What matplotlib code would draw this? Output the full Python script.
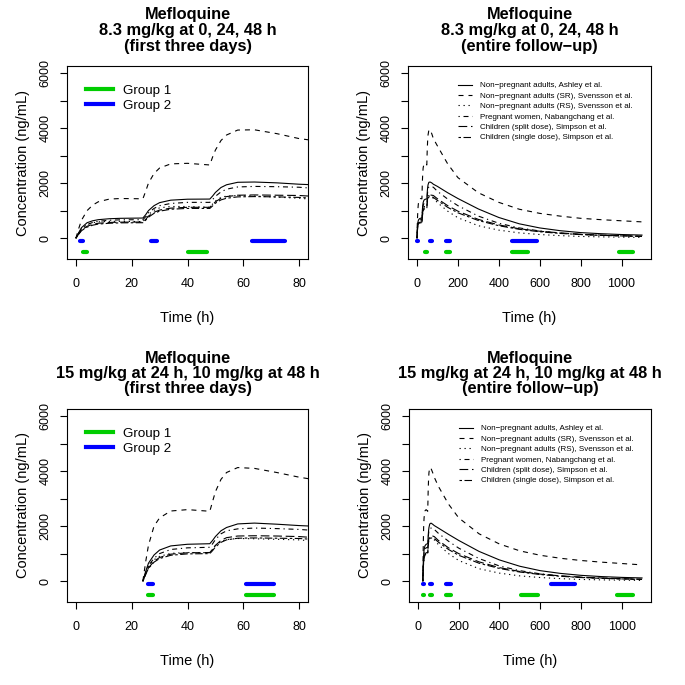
import matplotlib
matplotlib.use('Agg')
import matplotlib.pyplot as plt

plt.rcParams['font.family'] = ['Liberation Sans', 'DejaVu Sans']
plt.rcParams['lines.scale_dashes'] = False

# time grids (h)
t_a = [0, 1, 2, 4, 6, 8, 12, 16, 24, 25, 26, 28, 30, 34, 40, 48, 49, 50, 52, 54, 58, 64, 72, 80,
       100, 150, 200, 300, 400, 500, 600, 700, 800, 900, 1000, 1100]
t_b = [24, 25, 26, 28, 30, 34, 40, 48, 49, 50, 52, 54, 58, 64, 72, 80,
       100, 150, 200, 300, 400, 500, 600, 700, 800, 900, 1000, 1100]

# 8.3 mg/kg at 0, 24, 48 h  (ng/mL)
ashley_a = [0, 200, 380, 560, 630, 670, 705, 720, 730, 850, 1000, 1180, 1290, 1380, 1415, 1420,
            1530, 1660, 1840, 1940, 2030, 2040, 2010, 1960,
            1880, 1650, 1440, 1060, 750, 520, 370, 270, 200, 160, 130, 110]
sr_a = [0, 350, 650, 1000, 1200, 1320, 1420, 1440, 1430, 1700, 2000, 2350, 2550, 2700, 2720, 2660,
        2950, 3200, 3550, 3750, 3930, 3940, 3800, 3620,
        3350, 2700, 2200, 1650, 1300, 1050, 900, 800, 720, 670, 630, 590]
rs_a = [0, 180, 340, 500, 560, 590, 610, 610, 600, 720, 860, 1010, 1100, 1150, 1150, 1120,
        1240, 1350, 1480, 1530, 1550, 1530, 1490, 1450,
        1290, 980, 740, 450, 290, 190, 130, 90, 60, 45, 35, 25]
preg_a = [0, 170, 330, 490, 570, 610, 650, 665, 670, 780, 920, 1080, 1180, 1260, 1300, 1300,
          1400, 1520, 1680, 1780, 1860, 1880, 1870, 1850,
          1700, 1420, 1180, 800, 540, 370, 260, 180, 130, 100, 80, 60]
split_a = [0, 150, 290, 430, 500, 540, 570, 580, 585, 680, 800, 940, 1020, 1090, 1120, 1120,
           1220, 1320, 1450, 1510, 1560, 1570, 1560, 1550,
           1430, 1180, 980, 680, 480, 340, 250, 190, 140, 110, 90, 70]
single_a = [0, 140, 270, 400, 470, 510, 540, 555, 560, 650, 760, 900, 980, 1050, 1080, 1080,
            1170, 1270, 1390, 1450, 1500, 1510, 1500, 1480,
            1370, 1120, 920, 640, 450, 320, 230, 170, 130, 100, 80, 60]

# 15 mg/kg at 24 h, 10 mg/kg at 48 h  (ng/mL)
ashley_b = [0, 350, 650, 950, 1130, 1280, 1340, 1360, 1480, 1620, 1830, 1950, 2080, 2110, 2070, 2020,
            1930, 1700, 1480, 1080, 770, 540, 380, 280, 210, 165, 135, 115]
sr_b = [0, 700, 1300, 2000, 2300, 2550, 2600, 2540, 2900, 3250, 3700, 3950, 4130, 4100, 3950, 3780,
        3450, 2800, 2300, 1720, 1350, 1100, 940, 830, 750, 690, 640, 590]
rs_b = [0, 280, 540, 780, 900, 1010, 1040, 1030, 1160, 1290, 1440, 1510, 1550, 1540, 1520, 1500,
        1330, 1000, 750, 450, 290, 190, 130, 90, 60, 45, 35, 25]
preg_b = [0, 300, 560, 830, 1000, 1150, 1210, 1230, 1360, 1510, 1720, 1830, 1900, 1930, 1910, 1880,
          1740, 1450, 1200, 820, 550, 380, 265, 185, 135, 105, 80, 60]
split_b = [0, 250, 480, 720, 860, 980, 1030, 1040, 1160, 1300, 1480, 1580, 1640, 1650, 1640, 1620,
           1480, 1210, 1000, 700, 490, 350, 255, 190, 145, 115, 90, 70]
single_b = [0, 240, 460, 690, 820, 940, 990, 1000, 1110, 1240, 1410, 1500, 1560, 1570, 1560, 1550,
            1420, 1150, 940, 650, 460, 330, 240, 175, 130, 100, 80, 60]

# sampling windows (start, end) in h
grp1_a = [(2.5, 4), (40, 47), (140, 160), (465, 545), (990, 1055)]
grp2_a = [(1.5, 2.5), (27, 29), (63, 75), (140, 160), (465, 585)]
grp1_b = [(26, 27.5), (61, 71), (140, 160), (505, 590), (975, 1055)]
grp2_b = [(26, 27.5), (61, 71), (140, 160), (655, 770)]
grp_y = [-500, -100]

labels = ['Non\u2212pregnant adults, Ashley et al.',
          'Non\u2212pregnant adults (SR), Svensson et al.',
          'Non\u2212pregnant adults (RS), Svensson et al.',
          'Pregnant women, Nabangchang et al.',
          'Children (split dose), Simpson et al.',
          'Children (single dose), Simpson et al.']
dashes = [None, (3.6, 3.6), (0.9, 2.7), (0.9, 2.7, 3.6, 2.7), (6.3, 2.7), (1.8, 1.8, 5.4, 1.8)]
green = '#00CD00'
blue = '#0000FF'

titles = [['Mefloquine', '8.3 mg/kg at 0, 24, 48 h', '(first three days)'],
          ['Mefloquine', '8.3 mg/kg at 0, 24, 48 h', '(entire follow\u2212up)'],
          ['Mefloquine', '15 mg/kg at 24 h, 10 mg/kg at 48 h', '(first three days)'],
          ['Mefloquine', '15 mg/kg at 24 h, 10 mg/kg at 48 h', '(entire follow\u2212up)']]

W = H = 685.0
fig = plt.figure(figsize=(6.85, 6.85), dpi=100)

# axes boxes in pixels: left, top, right, bottom
boxes = [(67, 66, 308, 259), (408, 66, 651, 259), (67, 409, 308, 602), (409, 409, 651, 602)]
panels = [(t_a, [ashley_a, sr_a, rs_a, preg_a, split_a, single_a], grp1_a, grp2_a, 80),
          (t_a, [ashley_a, sr_a, rs_a, preg_a, split_a, single_a], grp1_a, grp2_a, 1100),
          (t_b, [ashley_b, sr_b, rs_b, preg_b, split_b, single_b], grp1_b, grp2_b, 80),
          (t_b, [ashley_b, sr_b, rs_b, preg_b, split_b, single_b], grp1_b, grp2_b, 1100)]

for box, (tt, curves, g1, g2, xmax), ttl in zip(boxes, panels, titles):
    l, t, r, b = box
    ax = fig.add_axes([l / W, 1 - b / H, (r - l) / W, (b - t) / H])
    lines = []
    for c, d, lab in zip(curves, dashes, labels):
        ln, = ax.plot(tt, c, color='black', lw=0.8, label=lab)
        if d is not None:
            ln.set_dashes(d)
        lines.append(ln)
    for s, e in g1:
        ax.plot([s, e], [grp_y[0]] * 2, color=green, lw=3, solid_capstyle='round')
    for s, e in g2:
        ax.plot([s, e], [grp_y[1]] * 2, color=blue, lw=3, solid_capstyle='round')

    pad = 0.04 * xmax
    ax.set_xlim(-pad, xmax + pad)
    ax.set_ylim(-500 - 260, 6000 + 260)
    if xmax == 80:
        ax.set_xticks([0, 20, 40, 60, 80])
    else:
        ax.set_xticks([0, 200, 400, 600, 800, 1000])
    ax.set_yticks(range(0, 7000, 1000))
    ax.set_yticklabels(['0', '', '2000', '', '4000', '', '6000'], rotation=90, va='center')
    ax.tick_params(direction='out', length=5, width=0.8, labelsize=9, color='black')
    ax.tick_params(axis='x', pad=9)
    ax.tick_params(axis='y', pad=6)
    for sp in ax.spines.values():
        sp.set_linewidth(0.8)
    ax.set_xlabel('Time (h)', fontsize=10.5, labelpad=15)
    ax.set_ylabel('Concentration (ng/mL)', fontsize=10.5, labelpad=7)

    xc = (l + r) / 2.0 / W
    ty = t - 51
    for k, s in enumerate(ttl):
        fig.text(xc, 1 - (ty + 15.5 * k) / H, s, ha='center', va='center',
                 fontsize=11.8, fontweight='bold')

    if xmax == 80:
        h1, = ax.plot([], [], color=green, lw=3)
        h2, = ax.plot([], [], color=blue, lw=3)
        ax.legend([h1, h2], ['Group 1', 'Group 2'], loc='upper left',
                  bbox_to_anchor=(0.079, 0.905), frameon=False, fontsize=9.6,
                  handlelength=2.0, handletextpad=0.8, borderpad=0, borderaxespad=0,
                  labelspacing=0.2)
    else:
        ax.legend(lines, labels, loc='upper left', bbox_to_anchor=(0.206, 0.918),
                  frameon=False, fontsize=5.8, handlelength=1.75, handletextpad=1.0,
                  borderpad=0, borderaxespad=0, labelspacing=0.34)

fig.savefig('out.png', dpi=100)
